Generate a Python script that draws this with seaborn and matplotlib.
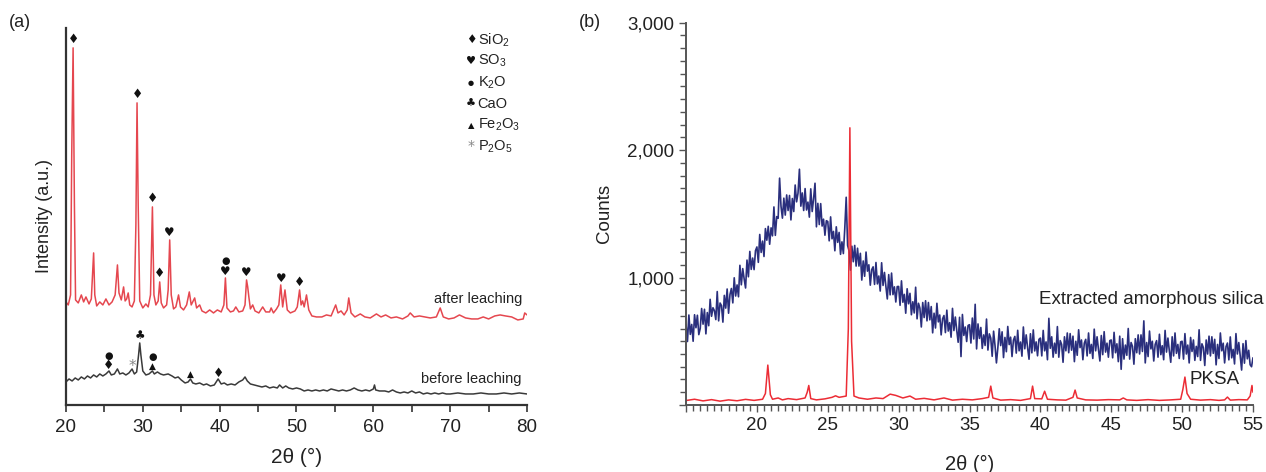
import numpy as np
import pandas as pd
import matplotlib
matplotlib.use("Agg")
import matplotlib.pyplot as plt
from matplotlib.ticker import MultipleLocator, FuncFormatter
import seaborn as sns

# ---------------- panel (a): XRD before / after leaching (a.u.) ----------------
after_2theta = [20.0, 20.3, 20.6, 20.75, 20.93, 21.1, 21.25, 21.6, 22.0, 22.3, 22.6, 23.0, 23.3, 23.45, 23.6,
                23.75, 24.0, 24.4, 24.8, 25.2, 25.6, 26.0, 26.4, 26.55, 26.7, 26.9, 27.2, 27.5, 27.7, 27.9,
                28.1, 28.3, 28.6, 28.9, 29.1, 29.25, 29.4, 29.6, 30.0, 30.4, 30.7, 31.0, 31.25, 31.45, 31.7,
                32.0, 32.2, 32.4, 32.7, 33.1, 33.3, 33.5, 33.7, 34.0, 34.3, 34.65, 34.9, 35.3, 35.7, 36.05,
                36.3, 36.75, 37.0, 37.4, 37.7, 38.2, 38.7, 39.2, 39.7, 40.2, 40.55, 40.75, 40.95, 41.4, 41.8,
                42.1, 42.5, 43.0, 43.3, 43.5, 43.65, 43.8, 44.0, 44.3, 44.6, 45.1, 45.6, 46.0, 46.5, 46.7,
                47.0, 47.4, 47.7, 47.95, 48.2, 48.5, 48.8, 49.2, 49.8, 50.1, 50.4, 50.6, 50.8, 51.0, 51.3,
                51.6, 52.0, 52.6, 53.3, 53.9, 54.5, 55.1, 55.4, 55.8, 56.2, 56.6, 56.8, 57.1, 57.6, 58.3,
                58.9, 59.6, 60.4, 61.0, 61.6, 62.3, 63.0, 63.8, 64.5, 64.8, 65.3, 66.0, 66.7, 67.4, 68.2,
                68.7, 69.1, 69.8, 70.5, 71.2, 72.0, 72.8, 73.6, 74.3, 75.0, 75.8, 76.5, 77.2, 78.0, 78.8,
                79.5, 79.7, 80.0]
after_int = [103, 100, 110, 250, 357, 200, 105, 102, 110, 103, 108, 101, 106, 130, 152,
             110, 99, 103, 100, 106, 100, 103, 110, 125, 140, 112, 105, 118, 104, 106,
             112, 100, 98, 104, 180, 302, 200, 104, 97, 101, 98, 110, 198, 110, 100,
             104, 123, 102, 97, 100, 115, 165, 110, 96, 98, 110, 98, 95, 100, 113,
             100, 107, 97, 100, 94, 92, 95, 92, 95, 93, 100, 127, 97, 93, 94,
             98, 93, 94, 100, 125, 118, 108, 96, 100, 94, 92, 98, 93, 93, 97,
             92, 96, 100, 120, 98, 115, 95, 92, 94, 98, 115, 100, 104, 98, 110,
             95, 89, 88, 88, 90, 89, 100, 92, 94, 90, 95, 107, 92, 88, 91,
             88, 87, 91, 88, 90, 87, 88, 86, 89, 92, 88, 89, 88, 87, 88,
             97, 88, 86, 87, 90, 87, 86, 86, 88, 86, 89, 90, 89, 88, 85,
             86, 92, 90]

before_2theta = [20.0, 20.4, 20.8, 21.2, 21.6, 22.0, 22.4, 22.8, 23.2, 23.6, 24.0, 24.4, 24.8, 25.2, 25.6,
                 25.9, 26.3, 26.7, 27.0, 27.4, 27.8, 28.2, 28.6, 28.9, 29.2, 29.45, 29.6, 29.75, 30.0, 30.4,
                 30.8, 31.25, 31.5, 31.9, 32.3, 32.7, 33.3, 33.8, 34.2, 34.6, 35.0, 35.5, 35.9, 36.2, 36.5,
                 36.9, 37.4, 37.9, 38.3, 38.8, 39.3, 39.8, 40.2, 40.6, 41.0, 41.5, 42.0, 42.5, 43.0, 43.3,
                 43.6, 44.0, 44.5, 45.0, 45.5, 46.0, 46.5, 47.0, 47.5, 47.8, 48.2, 48.6, 49.0, 49.5, 50.0,
                 50.5, 51.0, 51.5, 52.0, 52.5, 53.0, 53.5, 54.0, 54.5, 55.0, 55.5, 56.0, 56.5, 57.0, 57.5,
                 58.0, 58.5, 59.0, 59.5, 60.0, 60.15, 60.3, 60.8, 61.5, 62.0, 62.5, 63.0, 63.5, 64.0, 64.5,
                 65.0, 65.5, 66.0, 66.5, 67.0, 67.5, 68.0, 68.5, 69.0, 69.5, 70.0, 71.0, 72.0, 73.0, 74.0,
                 75.0, 76.0, 77.0, 78.0, 79.0, 80.0]
before_int = [23, 26, 24, 27, 25, 28, 26, 29, 27, 30, 28, 31, 29, 31, 34,
              30, 31, 36, 31, 32, 30, 32, 36, 31, 33, 50, 62, 50, 34, 30,
              31, 34, 31, 33, 31, 30, 31, 29, 27, 28, 25, 22, 23, 26, 22,
              21, 22, 20, 21, 19, 20, 26, 21, 22, 20, 21, 20, 23, 25, 28,
              24, 21, 20, 19, 18, 19, 17, 18, 17, 20, 17, 19, 17, 16, 17,
              16, 14, 15, 14, 15, 14, 15, 14, 16, 15, 14, 15, 14, 15, 17,
              15, 14, 15, 14, 16, 20, 15, 14, 14, 13, 15, 13, 12, 13, 12,
              14, 12, 13, 11, 12, 11, 12, 11, 12, 11, 11, 12, 11, 11, 12,
              11, 11, 12, 11, 12, 11]

# phase markers: 2theta, height, phase
mark_2theta = [20.93, 29.25, 31.25, 32.2, 33.5, 40.75, 40.75, 43.5, 47.95, 50.4,
               25.6, 25.6, 28.7, 29.6, 31.25, 31.25, 36.2, 39.8]
mark_height = [365, 310, 206, 131, 172, 133, 144, 132, 126, 122,
               39, 49, 38, 69, 39, 48, 31, 31]
mark_phase = ["SiO2", "SiO2", "SiO2", "SiO2", "SO3", "SO3", "K2O", "SO3", "SO3", "SiO2",
              "SiO2", "K2O", "P2O5", "CaO", "Fe2O3", "K2O", "Fe2O3", "SiO2"]

phase_names = ["SiO2", "SO3", "K2O", "CaO", "Fe2O3", "P2O5"]
phase_labels = ["SiO$_2$", "SO$_3$", "K$_2$O", "CaO", "Fe$_2$O$_3$", "P$_2$O$_5$"]
phase_glyph = {"SiO2": "\u2666", "SO3": "\u2665", "K2O": "\u25cf", "CaO": "\u2663",
               "Fe2O3": "\u25b2", "P2O5": "*"}
phase_color = {"SiO2": "#111111", "SO3": "#111111", "K2O": "#111111", "CaO": "#111111",
               "Fe2O3": "#111111", "P2O5": "#888888"}
glyph_size = {"SiO2": 9, "SO3": 8.5, "K2O": 7, "CaO": 8.5, "Fe2O3": 6.5, "P2O5": 11}
legend_glyph_size = {"SiO2": 8.5, "SO3": 8, "K2O": 5, "CaO": 8, "Fe2O3": 6, "P2O5": 10}

# ---------------- panel (b): counts ----------------
silica_counts = [
    630, 498, 706, 554, 632, 500, 708, 606, 704, 552,
    600, 757, 634, 751, 558, 725, 622, 829, 696, 763,
    740, 670, 890, 660, 800, 780, 650, 860, 760, 910,
    720, 867, 914, 801, 998, 855, 942, 849, 1096, 943,
    1070, 989, 918, 1137, 1006, 1205, 1064, 1153, 1062, 1211,
    1240, 1119, 1338, 1197, 1286, 1165, 1384, 1293, 1402, 1261,
    1390, 1327, 1554, 1331, 1478, 1465, 1780, 1559, 1466, 1623,
    1490, 1648, 1526, 1644, 1452, 1620, 1518, 1726, 1594, 1662,
    1850, 1560, 1664, 1526, 1698, 1530, 1592, 1474, 1696, 1518,
    1620, 1740, 1398, 1582, 1416, 1580, 1404, 1458, 1332, 1446,
    1440, 1288, 1476, 1304, 1362, 1210, 1398, 1276, 1354, 1182,
    1280, 1188, 1386, 1630, 1252, 1210, 1058, 1246, 1124, 1252,
    1090, 1230, 1090, 1190, 980, 1130, 1010, 1200, 1050, 1100,
    940, 1062, 1084, 946, 1118, 950, 1012, 894, 1116, 938,
    1040, 931, 832, 1023, 864, 1035, 866, 927, 808, 929,
    930, 782, 974, 806, 868, 720, 912, 794, 876, 708,
    810, 722, 924, 676, 798, 760, 612, 804, 686, 818,
    660, 804, 668, 772, 566, 720, 604, 798, 652, 706,
    550, 676, 702, 568, 744, 580, 646, 532, 758, 584,
    690, 586, 492, 688, 380, 710, 546, 612, 498, 624,
    630, 486, 682, 518, 790, 440, 636, 522, 608, 444,
    550, 467, 674, 431, 558, 525, 382, 579, 466, 330,
    450, 598, 466, 574, 372, 530, 418, 616, 474, 532,
    380, 509, 538, 407, 586, 425, 494, 383, 612, 441,
    550, 449, 359, 559, 409, 589, 424, 495, 386, 515,
    525, 385, 585, 425, 495, 355, 680, 445, 535, 375,
    485, 405, 615, 375, 505, 475, 335, 535, 425, 565,
    410, 560, 430, 540, 340, 500, 390, 590, 450, 510,
    355, 485, 515, 385, 565, 405, 475, 365, 595, 425,
    535, 435, 345, 545, 395, 575, 415, 485, 375, 505,
    510, 370, 570, 410, 480, 340, 540, 280, 520, 360,
    470, 390, 600, 360, 490, 460, 320, 520, 410, 550,
    400, 550, 420, 660, 330, 490, 380, 580, 440, 500,
    345, 475, 505, 375, 555, 395, 465, 355, 585, 415,
    525, 425, 335, 535, 385, 565, 405, 475, 365, 495,
    500, 360, 560, 400, 470, 330, 530, 420, 510, 350,
    460, 380, 590, 350, 480, 450, 310, 510, 400, 540,
    385, 535, 405, 515, 315, 475, 365, 565, 425, 485,
    330, 458, 486, 354, 534, 370, 436, 322, 560, 400,
    490, 387, 274, 481, 328, 505, 362, 429, 316, 300,
    370]
silica_2theta = np.round(np.arange(len(silica_counts)) * 0.1 + 15.0, 1)  # 0.1 deg scan step

pksa_2theta = [15.0, 15.6, 16.2, 16.8, 17.4, 18.0, 18.6, 19.2, 19.8, 20.4,
               20.6, 20.77, 20.95, 21.1, 21.5, 21.8, 22.2, 22.8, 23.4, 23.55,
               23.66, 23.8, 24.2, 24.8, 25.3, 25.55, 25.8, 26.3, 26.45, 26.56,
               26.68, 26.85, 27.2, 27.8, 28.4, 28.9, 29.4, 29.8, 30.3, 30.8,
               31.2, 31.8, 32.5, 33.2, 33.8, 34.5, 35.2, 35.9, 36.35, 36.5,
               36.65, 37.2, 37.9, 38.6, 39.3, 39.45, 39.6, 40.1, 40.3, 40.5,
               41.2, 41.8, 42.3, 42.45, 42.6, 43.2, 44.0, 44.8, 45.6, 45.85,
               46.1, 46.8, 47.6, 48.4, 49.2, 49.9, 50.05, 50.2, 50.35, 50.6,
               51.3, 52.0, 52.6, 53.0, 53.2, 53.4, 54.0, 54.6, 54.8, 54.93, 55.0]
pksa_counts = [35, 45, 32, 42, 30, 40, 33, 44, 36, 45,
               90, 313, 80, 45, 55, 40, 50, 42, 55, 100,
               153, 50, 40, 48, 60, 72, 60, 70, 600, 2175,
               500, 70, 55, 45, 55, 50, 85, 75, 55, 70,
               45, 52, 40, 55, 38, 45, 40, 50, 60, 148,
               55, 38, 42, 36, 50, 148, 50, 48, 108, 45,
               40, 38, 60, 117, 55, 40, 38, 42, 40, 55,
               40, 36, 42, 36, 40, 45, 120, 219, 90, 45,
               38, 42, 36, 40, 62, 38, 42, 40, 70, 153, 100]

after_df = pd.DataFrame({"two_theta": after_2theta, "intensity": after_int})
before_df = pd.DataFrame({"two_theta": before_2theta, "intensity": before_int})
silica_df = pd.DataFrame({"two_theta": silica_2theta, "counts": silica_counts})
pksa_df = pd.DataFrame({"two_theta": pksa_2theta, "counts": pksa_counts})

sns.set_theme(style="ticks")
plt.rcParams["font.family"] = ["Liberation Sans", "DejaVu Sans"]
plt.rcParams["mathtext.fontset"] = "custom"
plt.rcParams["mathtext.rm"] = "Liberation Sans"
plt.rcParams["mathtext.it"] = "Liberation Sans:italic"
narrow = ["Liberation Sans Narrow", "Liberation Sans", "DejaVu Sans"]
txt = "#222222"

fig = plt.figure(figsize=(12.66, 4.72), dpi=100)
ax1 = fig.add_axes([0.0521, 0.142, 0.3642, 0.799])
ax2 = fig.add_axes([0.5419, 0.142, 0.4478, 0.810])

# ----- (a)
sns.lineplot(data=after_df, x="two_theta", y="intensity", ax=ax1, color="#e5474f",
             linewidth=1.1, sort=False, estimator=None)
sns.lineplot(data=before_df, x="two_theta", y="intensity", ax=ax1, color="#3a3a3a",
             linewidth=1.1, sort=False, estimator=None)
for x, h, p in zip(mark_2theta, mark_height, mark_phase):
    ax1.text(x, h, phase_glyph[p], ha="center", va="center", fontsize=glyph_size[p],
             color=phase_color[p], family=["DejaVu Sans"])

for i, (p, lab) in enumerate(zip(phase_names, phase_labels)):
    yy = 0.968 - i * 0.0565
    ax1.text(0.878, yy, phase_glyph[p], transform=ax1.transAxes, ha="center", va="center",
             fontsize=legend_glyph_size[p], color=phase_color[p], family=["DejaVu Sans"])
    ax1.text(0.893, yy, lab, transform=ax1.transAxes, ha="left", va="center", fontsize=10.5, color=txt)

ax1.text(0.989, 0.282, "after leaching", transform=ax1.transAxes, ha="right", va="center",
         fontsize=10.5, color=txt)
ax1.text(0.989, 0.068, "before leaching", transform=ax1.transAxes, ha="right", va="center",
         fontsize=10.5, color=txt)

ax1.set_xlim(20, 80)
ax1.set_ylim(0, 377)
ax1.set_yticks([])
ax1.xaxis.set_major_locator(MultipleLocator(10))
ax1.xaxis.set_minor_locator(MultipleLocator(5))
ax1.tick_params(axis="x", which="both", direction="out", length=5, width=1.2, color="#333333",
                labelsize=13.5, labelcolor=txt, pad=5)
ax1.set_xlabel("2\u03b8 (\u00b0)", fontsize=15, color=txt, labelpad=9)
ax1.set_ylabel("Intensity (a.u.)", fontsize=13, color=txt, labelpad=9)
for s in ["top", "right"]:
    ax1.spines[s].set_visible(False)
for s in ["left", "bottom"]:
    ax1.spines[s].set_linewidth(1.6)
    ax1.spines[s].set_color("#333333")

# ----- (b)
sns.lineplot(data=silica_df, x="two_theta", y="counts", ax=ax2, color="#2a2f7d",
             linewidth=1.2, sort=False, estimator=None)
sns.lineplot(data=pksa_df, x="two_theta", y="counts", ax=ax2, color="#ec2c35",
             linewidth=1.1, sort=False, estimator=None)
ax2.set_xlim(15, 55)
ax2.set_ylim(0, 3000)
ax2.xaxis.set_major_locator(MultipleLocator(5))
ax2.xaxis.set_minor_locator(MultipleLocator(0.5))
ax2.yaxis.set_major_locator(MultipleLocator(1000))
ax2.yaxis.set_minor_locator(MultipleLocator(100))
ax2.xaxis.set_major_formatter(FuncFormatter(lambda v, pos: "" if v < 20 else f"{v:.0f}"))
ax2.yaxis.set_major_formatter(FuncFormatter(lambda v, pos: "" if v == 0 else f"{v:,.0f}"))
ax2.tick_params(axis="both", which="major", direction="out", length=5, width=1.0, color="#555555",
                labelsize=13.5, labelcolor=txt)
ax2.tick_params(axis="both", which="minor", direction="out", length=4, width=1.0, color="#555555")
for lab in ax2.get_xticklabels() + ax2.get_yticklabels():
    lab.set_family(narrow)
ax2.set_xlabel("2\u03b8 (\u00b0)", fontsize=14.5, color=txt, labelpad=15, family=narrow)
ax2.set_ylabel("Counts", fontsize=13.5, color=txt, labelpad=10, family=narrow)
for s in ["top", "right"]:
    ax2.spines[s].set_visible(False)
for s in ["left", "bottom"]:
    ax2.spines[s].set_linewidth(1.4)
    ax2.spines[s].set_color("#555555")

ax2.text(1.018, 0.276, "Extracted amorphous silica", transform=ax2.transAxes, ha="right",
         va="center", fontsize=13.5, color=txt, family=narrow)
ax2.text(0.977, 0.066, "PKSA", transform=ax2.transAxes, ha="right", va="center",
         fontsize=13.5, color=txt, family=narrow)

fig.text(0.007, 0.953, "(a)", fontsize=13, color=txt, va="center")
fig.text(0.457, 0.953, "(b)", fontsize=13, color=txt, va="center")

fig.savefig("out.png", dpi=100)
